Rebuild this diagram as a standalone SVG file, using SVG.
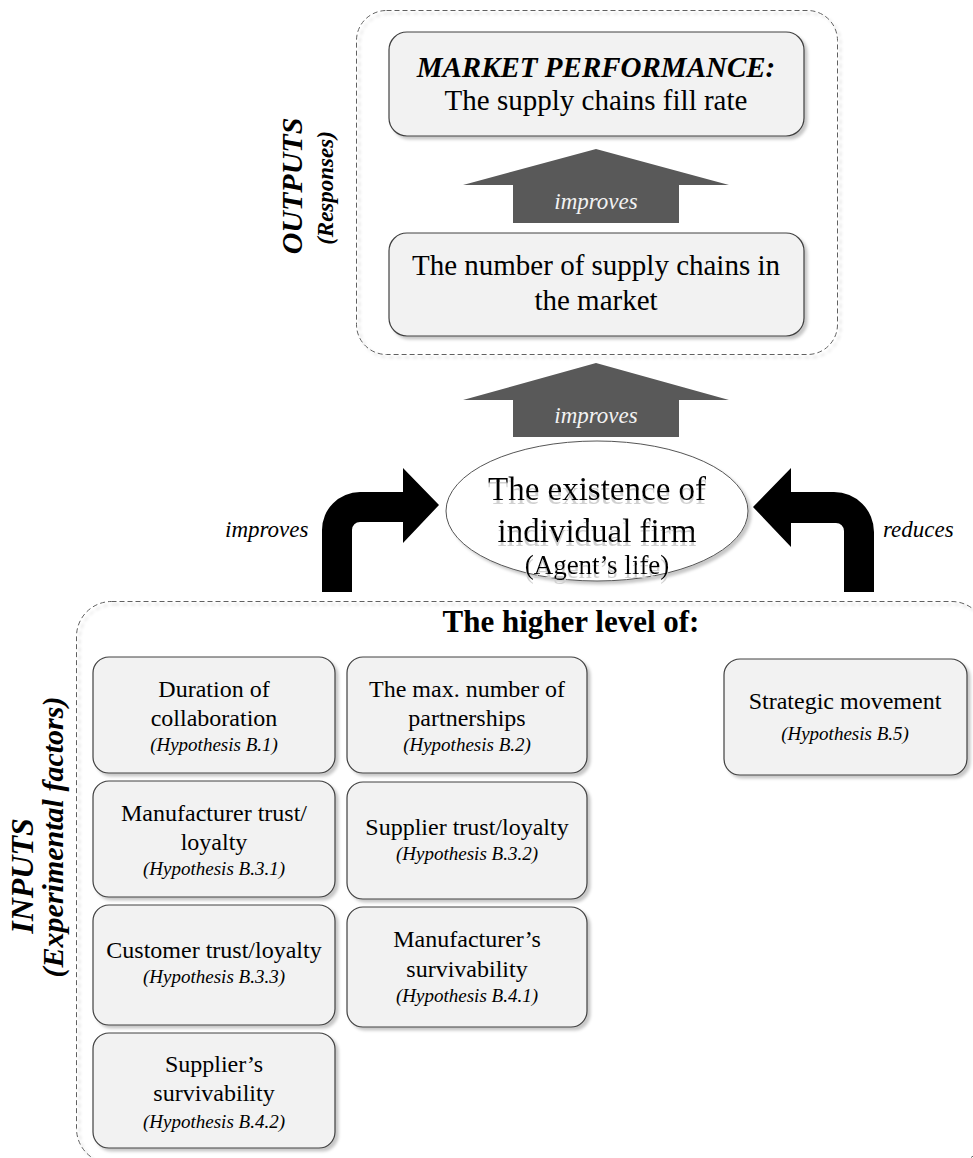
<svg xmlns="http://www.w3.org/2000/svg" width="973" height="1158" viewBox="0 0 973 1158" font-family="'Liberation Serif', 'Times New Roman', serif">
  <defs>
    <style>
      text { font-family: "Liberation Serif", "Times New Roman", serif; fill: #000; }
      .frame { fill: none; stroke: #606060; stroke-width: 1; stroke-dasharray: 5 3; }
      .box { fill: #f2f2f2; stroke: #404040; stroke-width: 1.2; }
      .main { font-size: 29px; text-anchor: middle; }
      .lbl { font-size: 24px; text-anchor: middle; }
      .hyp { font-size: 19px; font-style: italic; text-anchor: middle; }
      .oval { font-size: 33px; text-anchor: middle; }
      .oval-sm { font-size: 27px; text-anchor: middle; }
      .side { font-weight: bold; font-style: italic; text-anchor: middle; }
      .verb { font-size: 23px; font-style: italic; }
      .bigarrow { fill: #595959; }
      .bigarrow-text { font-size: 23px; font-style: italic; fill: #f2f2f2; text-anchor: middle; }
      .bend { fill: #000; }
    </style>
    <filter id="drop" x="-5%" y="-5%" width="115%" height="120%">
      <feDropShadow dx="3" dy="3" stdDeviation="1.5" flood-color="#000" flood-opacity="0.22"/>
    </filter>
    <!-- soft grey echo under the oval's wording -->
    <filter id="ghost" x="-5%" y="-10%" width="110%" height="140%">
      <feOffset in="SourceAlpha" dx="0" dy="4" result="off"/>
      <feFlood flood-color="#d0d0d0"/>
      <feComposite in2="off" operator="in" result="sh"/>
      <feMerge>
        <feMergeNode in="sh"/>
        <feMergeNode in="SourceGraphic"/>
      </feMerge>
    </filter>
  </defs>

  <!-- Outputs frame -->
  <g id="outputs-frame">
    <rect class="frame" x="356.5" y="10.5" width="481" height="344" rx="30" filter="url(#drop)"/>
    <text class="side" font-size="30" transform="translate(302,186) rotate(-90)">OUTPUTS</text>
    <text class="side" font-size="23" transform="translate(333,188) rotate(-90)">(Responses)</text>
  </g>

  <g id="market-performance">
    <rect class="box" x="389" y="32" width="415" height="104" rx="18" filter="url(#drop)"/>
    <text class="main" x="596" y="77" font-weight="bold" font-style="italic">MARKET PERFORMANCE:</text>
    <text class="main" x="596" y="110">The supply chains fill rate</text>
  </g>

  <g id="supply-chain-count">
    <rect class="box" x="389" y="233" width="415" height="103" rx="18" filter="url(#drop)"/>
    <text class="main" x="596" y="275">The number of supply chains in</text>
    <text class="main" x="596" y="310">the market</text>
  </g>

  <g id="firm-existence">
    <ellipse cx="597" cy="511" rx="151" ry="70" fill="#fff" stroke="#555" stroke-width="1" filter="url(#drop)"/>
    <g filter="url(#ghost)">
      <text class="oval" x="597" y="500">The existence of</text>
      <text class="oval" x="597" y="542">individual firm</text>
      <text class="oval-sm" x="597" y="574">(Agent’s life)</text>
    </g>
  </g>

  <!-- Inputs frame -->
  <g id="inputs-frame">
    <rect class="frame" x="76.5" y="601.5" width="910" height="562" rx="35" filter="url(#drop)"/>
    <text x="571" y="632" font-size="31" font-weight="bold" text-anchor="middle">The higher level of:</text>
    <text class="side" font-size="32" transform="translate(33,876) rotate(-90)">INPUTS</text>
    <text class="side" font-size="30" transform="translate(63,837) rotate(-90)">(Experimental factors)</text>
  </g>

  <g id="duration">
    <rect class="box" x="93" y="657" width="242" height="116" rx="16" filter="url(#drop)"/>
    <text class="lbl" x="214" y="697">Duration of</text>
    <text class="lbl" x="214" y="726">collaboration</text>
    <text class="hyp" x="214" y="751">(Hypothesis B.1)</text>
  </g>

  <g id="max-partnerships">
    <rect class="box" x="347" y="657" width="240" height="116" rx="16" filter="url(#drop)"/>
    <text class="lbl" x="467" y="697">The max. number of</text>
    <text class="lbl" x="467" y="726">partnerships</text>
    <text class="hyp" x="467" y="751">(Hypothesis B.2)</text>
  </g>

  <g id="strategic-movement">
    <rect class="box" x="724" y="659" width="243" height="116" rx="16" filter="url(#drop)"/>
    <text class="lbl" x="845" y="709">Strategic movement</text>
    <text class="hyp" x="845" y="740">(Hypothesis B.5)</text>
  </g>

  <g id="manufacturer-trust">
    <rect class="box" x="93" y="781" width="242" height="116" rx="16" filter="url(#drop)"/>
    <text class="lbl" x="214" y="821">Manufacturer trust/</text>
    <text class="lbl" x="214" y="850">loyalty</text>
    <text class="hyp" x="214" y="875">(Hypothesis B.3.1)</text>
  </g>

  <g id="supplier-trust">
    <rect class="box" x="347" y="782" width="240" height="117" rx="16" filter="url(#drop)"/>
    <text class="lbl" x="467" y="835">Supplier trust/loyalty</text>
    <text class="hyp" x="467" y="860">(Hypothesis B.3.2)</text>
  </g>

  <g id="customer-trust">
    <rect class="box" x="93" y="905" width="242" height="120" rx="16" filter="url(#drop)"/>
    <text class="lbl" x="214" y="958">Customer trust/loyalty</text>
    <text class="hyp" x="214" y="983">(Hypothesis B.3.3)</text>
  </g>

  <g id="manufacturer-survivability">
    <rect class="box" x="347" y="907" width="240" height="120" rx="16" filter="url(#drop)"/>
    <text class="lbl" x="467" y="947">Manufacturer’s</text>
    <text class="lbl" x="467" y="977">survivability</text>
    <text class="hyp" x="467" y="1002">(Hypothesis B.4.1)</text>
  </g>

  <g id="supplier-survivability">
    <rect class="box" x="93" y="1033" width="242" height="115" rx="16" filter="url(#drop)"/>
    <text class="lbl" x="214" y="1072">Supplier’s</text>
    <text class="lbl" x="214" y="1101">survivability</text>
    <text class="hyp" x="214" y="1128">(Hypothesis B.4.2)</text>
  </g>

  <!-- Connectors: block arrows with their verbs -->
  <g id="connectors">
    <g id="count-to-performance">
      <path class="bigarrow" d="M463 185 L596 149 L729 185 L679 185 L679 223 L513 223 L513 185 Z"/>
      <text class="bigarrow-text" x="596" y="209">improves</text>
    </g>
    <g id="firm-to-count">
      <path class="bigarrow" d="M463 400 L596 363 L729 400 L679 400 L679 437 L513 437 L513 400 Z"/>
      <text class="bigarrow-text" x="596" y="423">improves</text>
    </g>
    <g id="inputs-improve-firm">
      <path class="bend" d="M322 592 V530 A38 38 0 0 1 360 492 H403 V468 L439 505 L403 543 V522 H360 A8 8 0 0 0 352 530 V592 Z"/>
      <text class="verb" x="225" y="537">improves</text>
    </g>
    <g id="inputs-reduce-firm">
      <path class="bend" d="M874 592 V532 A40 40 0 0 0 834 492 H791 V468 L753 507 L791 547 V523 H836 A8 8 0 0 1 844 531 V592 Z"/>
      <text class="verb" x="883" y="537">reduces</text>
    </g>
  </g>
</svg>
